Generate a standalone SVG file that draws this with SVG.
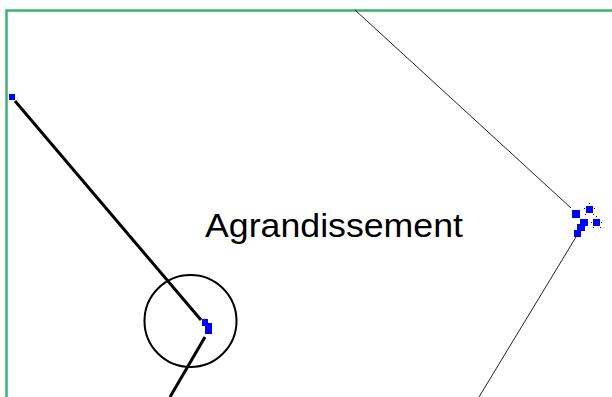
<svg xmlns="http://www.w3.org/2000/svg" width="612" height="397" viewBox="0 0 612 397">
<style>
.frame{fill:none;stroke:#3cb371;stroke-width:2.5}
.thick{stroke:#000;stroke-width:3;fill:none}
.thin{stroke:#222;stroke-width:1;fill:none}
.pt{fill:#0000ff}
.h{fill:#000}
.lbl{font-family:"Liberation Sans",Arial,sans-serif;font-size:34px;fill:#000}
</style>
<rect width="612" height="397" fill="#fff"/>
<path class="frame" d="M6.5,397 V10.5 H612"/>
<g id="connectors">
<line class="thick" x1="15" y1="101" x2="201" y2="320"/>
<line class="thick" x1="205" y1="337" x2="170" y2="397"/>
<line class="thin" x1="355" y1="10" x2="571" y2="208"/>
<line class="thin" x1="576" y1="237" x2="479" y2="397"/>
</g>
<g id="zoom-circle">
<circle cx="190.5" cy="321" r="46" fill="none" stroke="#000" stroke-width="2"/>
</g>
<g id="point-left">
<rect class="pt" x="9" y="94" width="6" height="6"/>
</g>
<g id="point-center">
<rect class="pt" x="202" y="319" width="6" height="7"/>
<rect class="pt" x="205" y="323" width="7" height="11"/>
</g>
<g id="point-right">
<rect class="pt" x="572" y="210" width="8" height="8"/>
<rect class="pt" x="586" y="206" width="7" height="7"/>
<rect class="pt" x="593" y="219" width="7" height="7"/>
<rect class="pt" x="580" y="219" width="8" height="7"/>
<rect class="pt" x="577" y="224" width="8" height="7"/>
<rect class="pt" x="574" y="230" width="7" height="7"/>
<rect class="h" x="589" y="203" width="1" height="1"/>
<rect class="h" x="584" y="208" width="1" height="1"/>
<rect class="h" x="594" y="208" width="1" height="1"/>
<rect class="h" x="585" y="214" width="1" height="1"/>
<rect class="h" x="593" y="214" width="1" height="1"/>
<rect class="h" x="596" y="216" width="1" height="1"/>
<rect class="h" x="591" y="222" width="1" height="1"/>
<rect class="h" x="601" y="222" width="1" height="1"/>
<rect class="h" x="593" y="227" width="1" height="1"/>
<rect class="h" x="600" y="227" width="1" height="1"/>
</g>
<g id="label">
<text class="lbl" x="205" y="237" textLength="258" lengthAdjust="spacingAndGlyphs">Agrandissement</text>
</g>
</svg>
